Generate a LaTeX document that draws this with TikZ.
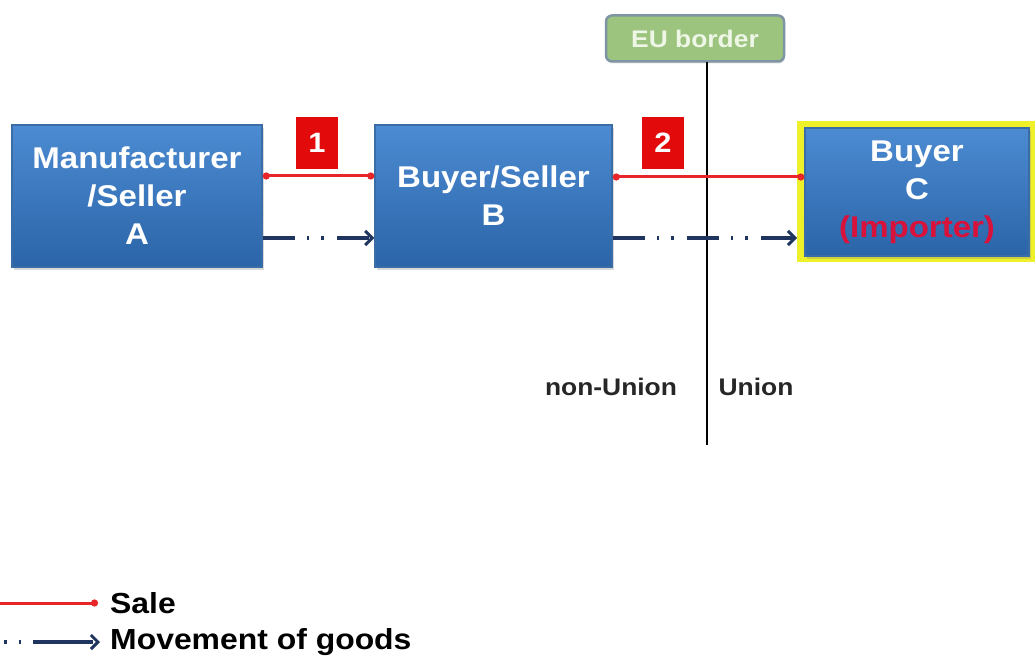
\documentclass[tikz,border=0pt]{standalone}
\usepackage{fontspec}
\setmainfont{Liberation Sans}[FakeStretch=1.1]
\usetikzlibrary{arrows.meta,shadows,calc}
\definecolor{boxtop}{HTML}{4C8BD2}
\definecolor{boxbot}{HTML}{2B64A8}
\definecolor{boxedge}{HTML}{3A6DA6}
\definecolor{salered}{HTML}{E8262A}
\definecolor{numred}{HTML}{E20A0A}
\definecolor{navy}{HTML}{1F3560}
\definecolor{eugreen}{HTML}{9CC47E}
\definecolor{euedge}{HTML}{7F95A4}
\definecolor{eutext}{HTML}{EEF6E6}
\definecolor{yel}{HTML}{EEF02A}
\definecolor{imp}{HTML}{D8123A}
\tikzset{
  bluebox/.style={draw=boxedge, line width=1.5pt, top color=boxtop, bottom color=boxbot,
    text=white, font=\bfseries\fontsize{30}{38}\selectfont, align=center,
    drop shadow={shadow xshift=2pt, shadow yshift=-3pt, opacity=0.3}},
  numbox/.style={fill=numred, text=white, font=\bfseries\fontsize{28}{30}\selectfont,
    minimum width=42pt, minimum height=52pt, inner sep=0pt},
  sale/.style={draw=salered, line width=3pt, {Circle[length=7pt]}-{Circle[length=7pt]}},
  goods/.style={draw=navy, line width=3.2pt, dash pattern=on 32pt off 12pt on 2.5pt off 12pt on 2.5pt off 13pt,
    -{Straight Barb[length=7pt,width=14pt,line width=3pt]}},
  lbl/.style={font=\bfseries\fontsize{24}{28}\selectfont, text=black!85, inner sep=0pt},
  leg/.style={font=\bfseries\fontsize{29}{32}\selectfont, text=black, inner sep=0pt, anchor=west}
}
\begin{document}
\begin{tikzpicture}[x=1pt,y=-1pt]
\useasboundingbox (0,0) rectangle (1035,660);
% boxes
\node[bluebox, minimum width=250pt, minimum height=142pt] (A) at (137,196) {Manufacturer\\/Seller\\A};
\node[bluebox, minimum width=237pt, minimum height=142pt] (B) at (493.5,196) {Buyer/Seller\\B};
\node[draw=yel, line width=7pt, minimum width=231pt, minimum height=134pt] (Cy) at (916,191.5) {};
\node[bluebox, minimum width=224pt, minimum height=128pt] (C) at (917,192) {Buyer\\C\\\textcolor{imp}{(Importer)}};
% EU border
\node[draw=euedge, line width=2.5pt, fill=eugreen, rounded corners=6pt, text=eutext,
  font=\bfseries\fontsize{24}{28}\selectfont, minimum width=178pt, minimum height=46pt,
  drop shadow={shadow xshift=1pt, shadow yshift=-2pt, opacity=0.25}] (EU) at (695,38.5) {EU border};
\coordinate (bt) at (707,62);
\coordinate (bb) at (707,445);
\draw[line width=2.8pt, black] (bt) -- (bb);
% number labels
\node[numbox] (n1) at (317,143) {1};
\node[numbox] (n2) at (663,143) {2};
% sale arrows
\draw[sale] (A.east |- 0,176) -- (B.west |- 0,176);
\draw[sale] (B.east |- 0,177) -- (C.west |- 0,177);
% goods arrows
\draw[goods] (A.east |- 0,238) -- (B.west |- 0,238);
\draw[goods] (B.east |- 0,238) -- (Cy.west |- 0,238);
% region labels
\node[lbl] (nu) at (611,387) {non-Union};
\node[lbl] (un) at (756,387) {Union};
% legend
\coordinate (l1) at (0,603);
\node[leg] (ls) at (110,603) {Sale};
\draw[draw=salered, line width=3pt, -{Circle[length=7pt]}] (l1) -- (ls.west -| 98,0);
\coordinate (l2) at (0,642);
\node[leg] (lm) at (110,642) {Movement of goods};
\draw[draw=navy, line width=3.2pt, dash pattern=on 2.5pt off 12pt on 2.5pt off 12pt on 60pt off 12pt, dash phase=-4pt,
  -{Straight Barb[length=7pt,width=14pt,line width=3pt]}] (l2) -- (lm.west -| 100,0);
\end{tikzpicture}
\end{document}
